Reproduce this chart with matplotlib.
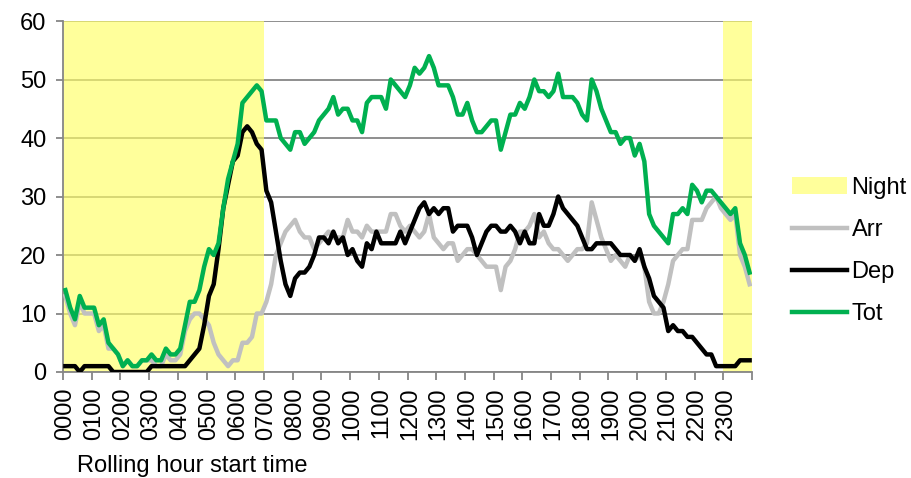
import matplotlib
matplotlib.use("Agg")
import matplotlib.pyplot as plt
import numpy as np

plt.rcParams['font.family'] = ['Liberation Sans', 'DejaVu Sans']

# rolling hour start times, every 10 minutes
times = ["%02d%02d" % (h, m) for h in range(24) for m in range(0, 60, 10)]

arr = [13, 10, 8, 12, 10, 10, 10, 7, 8, 4, 4, 3,
       1, 2, 1, 1, 2, 2, 2, 1, 1, 3, 2, 2,
       3, 7, 9, 10, 10, 9, 8, 5, 3, 2, 1, 2,
       2, 5, 5, 6, 10, 10, 12, 15, 20, 22, 24, 25,
       26, 24, 23, 23, 21, 22, 23, 24, 23, 23, 23, 26,
       24, 24, 23, 25, 24, 24, 24, 24, 27, 27, 25, 24,
       25, 24, 23, 24, 27, 23, 22, 21, 22, 22, 19, 20,
       21, 21, 20, 19, 18, 18, 18, 14, 18, 19, 21, 24,
       24, 25, 27, 23, 24, 22, 21, 21, 20, 19, 20, 21,
       21, 22, 29, 26, 23, 21, 19, 20, 19, 18, 20, 19,
       20, 18, 12, 10, 10, 12, 15, 19, 20, 21, 21, 26,
       26, 26, 28, 29, 30, 28, 27, 26, 27, 20, 18, 15]

dep = [1, 1, 1, 0, 1, 1, 1, 1, 1, 1, 0, 0,
       0, 0, 0, 0, 0, 0, 1, 1, 1, 1, 1, 1,
       1, 1, 2, 3, 4, 8, 13, 15, 21, 28, 32, 36,
       37, 41, 42, 41, 39, 38, 31, 29, 24, 19, 15, 13,
       16, 17, 17, 18, 20, 23, 23, 22, 24, 22, 23, 20,
       21, 19, 18, 22, 21, 24, 22, 22, 22, 22, 24, 22,
       24, 26, 28, 29, 27, 28, 27, 28, 28, 24, 25, 25,
       25, 23, 20, 22, 24, 25, 25, 24, 24, 25, 24, 22,
       24, 22, 22, 27, 25, 25, 27, 30, 28, 27, 26, 25,
       23, 21, 21, 22, 22, 22, 22, 21, 20, 20, 20, 19,
       21, 18, 16, 13, 12, 11, 7, 8, 7, 7, 6, 6,
       5, 4, 3, 3, 1, 1, 1, 1, 1, 2, 2, 2]

tot = [14, 11, 9, 13, 11, 11, 11, 8, 9, 5, 4, 3,
       1, 2, 1, 1, 2, 2, 3, 2, 2, 4, 3, 3,
       4, 8, 12, 12, 14, 18, 21, 20, 22, 28, 33, 36,
       39, 46, 47, 48, 49, 48, 43, 43, 43, 40, 39, 38,
       41, 41, 39, 40, 41, 43, 44, 45, 47, 44, 45, 45,
       43, 43, 41, 46, 47, 47, 47, 45, 50, 49, 48, 47,
       49, 52, 51, 52, 54, 52, 49, 49, 49, 47, 44, 44,
       46, 43, 41, 41, 42, 43, 43, 38, 41, 44, 44, 46,
       45, 47, 50, 48, 48, 47, 48, 51, 47, 47, 47, 46,
       44, 43, 50, 48, 45, 43, 41, 41, 39, 40, 40, 37,
       39, 36, 27, 25, 24, 23, 22, 27, 27, 28, 27, 32,
       31, 29, 31, 31, 30, 29, 28, 27, 28, 22, 20, 17]

# night periods given as (start, end) in rolling hour start labels
night = [("0000", "0700"), ("2300", "2400")]

grid_col = '#868686'
fs = 17

fig = plt.figure(figsize=(9.11, 4.78), dpi=100)
ax = fig.add_axes([63/911, 1 - 372/478, (752 - 63)/911, (372 - 21)/478])

x = np.arange(len(times))

def pos(label):
    # boundary position of a time label on the category axis
    h, m = int(label[:2]), int(label[2:])
    return (h * 60 + m) / 10 - 0.5

first = True
for a, b in night:
    ax.axvspan(pos(a), pos(b), color='#FFFF66', alpha=0.65, lw=0, zorder=2,
               label='Night' if first else None)
    first = False

ax.plot(x, arr, color='#C0C0C0', lw=3.2, label='Arr', zorder=3, solid_joinstyle='round')
ax.plot(x, dep, color='black', lw=3.2, label='Dep', zorder=4, solid_joinstyle='round')
ax.plot(x, tot, color='#00B050', lw=3.2, label='Tot', zorder=5, solid_joinstyle='round')

ax.set_xlim(-0.5, len(times) - 0.5)
ax.set_ylim(0, 60)
ax.set_yticks(range(0, 61, 10))
ax.yaxis.grid(True, color=grid_col, lw=1.3, zorder=1)
ax.set_axisbelow(True)

ax.set_xticks(np.arange(-0.5, len(times), 6), labels=[])
hour_idx = np.arange(0, len(times), 6)
ax.set_xticks(hour_idx, labels=[times[i] for i in hour_idx], minor=True)
ax.tick_params(axis='x', which='major', length=6, width=1.3, color=grid_col)
ax.tick_params(axis='x', which='minor', length=0, pad=11, labelsize=fs, rotation=90)
ax.tick_params(axis='y', length=5, width=1.3, color=grid_col, pad=7, labelsize=fs)

for s in ['top', 'right']:
    ax.spines[s].set_visible(False)
for s in ['left', 'bottom']:
    ax.spines[s].set_color(grid_col)
    ax.spines[s].set_linewidth(1.3)

fig.text(77/911, 1 - 466/478, "Rolling hour start time", fontsize=fs, va='center', ha='left')

ax.legend(loc='center left', bbox_to_anchor=(1.045, 0.345), frameon=False,
          fontsize=fs, handlelength=2.3, handletextpad=0.2, labelspacing=0.85,
          borderaxespad=0)

fig.savefig("out.png", dpi=100)
